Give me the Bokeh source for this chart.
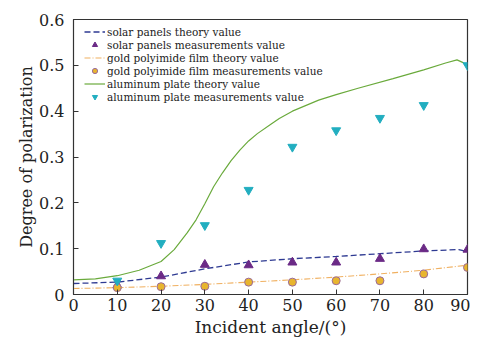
from bokeh.plotting import figure
from bokeh.embed import file_html
from bokeh.resources import INLINE
from bokeh.models import FixedTicker

# measurement angles
angles = [10, 20, 30, 40, 50, 60, 70, 80, 90]
solar_meas = [0.020, 0.040, 0.065, 0.064, 0.070, 0.070, 0.078, 0.099, 0.098]
gold_meas = [0.015, 0.017, 0.018, 0.027, 0.027, 0.030, 0.030, 0.045, 0.059]
alu_meas = [0.030, 0.112, 0.151, 0.228, 0.322, 0.358, 0.385, 0.413, 0.500]

# theory curves
solar_th_x = [0, 10, 20, 30, 40, 50, 60, 70, 80, 88, 90]
solar_th_y = [0.024, 0.027, 0.038, 0.056, 0.071, 0.078, 0.083, 0.089, 0.095, 0.098, 0.094]
gold_th_x = [0, 10, 20, 30, 40, 50, 60, 70, 80, 90]
gold_th_y = [0.013, 0.015, 0.018, 0.022, 0.027, 0.032, 0.038, 0.045, 0.053, 0.064]
alu_th_x = [0, 5, 10, 15, 20, 23, 26, 28, 30, 32, 34, 36, 38, 40, 42, 45, 47, 50, 56, 60, 65, 73, 80, 85, 87.6, 89, 90]
alu_th_y = [0.032, 0.034, 0.041, 0.053, 0.072, 0.098, 0.135, 0.163, 0.198, 0.235, 0.265, 0.292, 0.315, 0.335, 0.351, 0.371, 0.384, 0.400, 0.424, 0.436, 0.450, 0.471, 0.490, 0.505, 0.512, 0.506, 0.495]

x_ticks = [0, 10, 20, 30, 40, 50, 60, 70, 80, 90]
y_ticks = [0, 0.1, 0.2, 0.3, 0.4, 0.5, 0.6]

FONT = "DejaVu Serif"

p = figure(width=470, height=339, x_range=(0, 90), y_range=(0, 0.6),
           output_backend="svg", toolbar_location=None,
           min_border_left=73, min_border_top=19, min_border_right=3, min_border_bottom=44)
p.grid.visible = False
p.outline_line_color = "#333333"
p.outline_line_width = 1.2
p.background_fill_color = "white"

p.line(solar_th_x, solar_th_y, line_color="#2e3a92", line_dash="6 3", line_width=1.3,
       legend_label="solar panels theory value")
p.scatter(angles, solar_meas, marker="triangle", size=9, fill_color="#6b2a86", line_color="#6b2a86",
          legend_label="solar panels measurements value")
p.line(gold_th_x, gold_th_y, line_color="#f0b060", line_dash="6 2 1 2", line_width=1.1,
       legend_label="gold polyimide film theory value")
p.scatter(angles, gold_meas, marker="circle", size=8, fill_color="#e8b52e", line_color="#9a6a9a",
          legend_label="gold polyimide film measurements value")
p.line(alu_th_x, alu_th_y, line_color="#6aaa3c", line_width=1.2,
       legend_label="aluminum plate theory value")
p.scatter(angles, alu_meas, marker="inverted_triangle", size=9, fill_color="#22aec0", line_color="#22aec0",
          legend_label="aluminum plate measurements value")

for ax in (p.xaxis[0], p.yaxis[0]):
    ax.major_tick_in = 5
    ax.major_tick_out = 0
    ax.minor_tick_in = 0
    ax.minor_tick_out = 0
    ax.axis_line_color = "#333333"
    ax.major_tick_line_color = "#333333"
    ax.major_label_text_font = FONT
    ax.major_label_text_font_size = "16px"
    ax.major_label_text_color = "#222222"
    ax.axis_label_text_font = FONT
    ax.axis_label_text_font_style = "normal"
    ax.axis_label_text_color = "#222222"
p.xaxis.axis_label_text_font_size = "17px"
p.yaxis.axis_label_text_font_size = "16px"

p.xaxis.ticker = FixedTicker(ticks=x_ticks)
p.yaxis.ticker = FixedTicker(ticks=y_ticks)
p.yaxis.major_label_overrides = {0: "0", 0.1: "0.1", 0.2: "0.2", 0.3: "0.3", 0.4: "0.4", 0.5: "0.5", 0.6: "0.6"}
p.xaxis.axis_label = "Incident angle/(°)"
p.yaxis.axis_label = "Degree of polarization"
p.xaxis.major_label_standoff = 4
p.yaxis.major_label_standoff = 9
p.xaxis.axis_label_standoff = 3
p.yaxis.axis_label_standoff = 0

lg = p.legend[0]
lg.location = (11, 191)
lg.background_fill_alpha = 0
lg.border_line_alpha = 0
lg.label_text_font = FONT
lg.label_text_font_size = "10.5px"
lg.label_text_color = "#222222"
lg.label_height = 13
lg.glyph_height = 13
lg.glyph_width = 21
lg.spacing = 0
lg.padding = 0
lg.margin = 0
lg.label_standoff = 2

open("out.html", "w").write(file_html(p, INLINE))
